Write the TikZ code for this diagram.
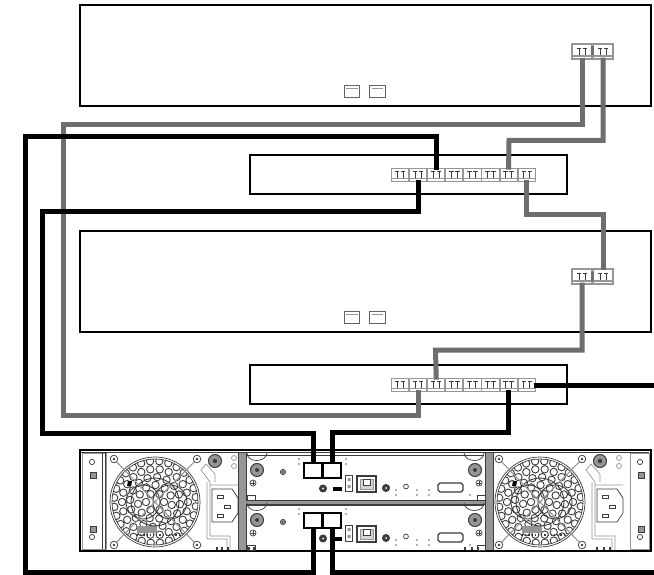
\documentclass[tikz,border=0pt]{standalone}
\usepackage{xcolor}
\usetikzlibrary{arrows.meta, positioning, calc}
\definecolor{cblGrey}{RGB}{110,110,110}
\definecolor{cblBlack}{RGB}{0,0,0}
\definecolor{hwInk}{RGB}{60,60,60}
\definecolor{hwSoft}{RGB}{150,150,150}

\begin{document}
\begin{tikzpicture}[x=1pt,y=-1pt,
  chassis/.style={draw=black,line width=1.5pt,fill=white,inner sep=0pt},
  rjport/.style={draw=hwInk!80,line width=0.7pt,fill=white,inner sep=0pt,minimum width=15.5pt,minimum height=12pt,
                 path picture={
                   \draw[hwSoft,line width=0.6pt] (path picture bounding box.north west) ++(2,3) -- ++(11.5,0);}},
  fcport/.style={draw=hwSoft,line width=1.3pt,fill=white,inner sep=0pt,
                 path picture={
                   \draw[hwInk,line width=0.9pt]
                     ($(path picture bounding box.center)+(-3,3.5)$) -- +(0,-7) +(-2.2,-7) -- +(2.2,-7)
                     ($(path picture bounding box.center)+(3,3.5)$) -- +(0,-7) +(-2.2,-7) -- +(2.2,-7);
                   \draw[hwSoft,line width=1.3pt] (path picture bounding box.south west) ++(0,-3) -- ++(30,0);}},
  swport/.style={fcport,minimum width=17.5pt,minimum height=13.5pt},
  srvport/.style={fcport,minimum width=20pt,minimum height=15pt},
  sasport/.style={draw=black,line width=1.2pt,fill=white,inner sep=0pt,minimum width=18pt,minimum height=15pt},
  cblgrey/.style={draw=cblGrey,line width=5pt,shorten <=-2pt,shorten >=-2pt},
  cblblack/.style={draw=cblBlack,line width=5pt,shorten <=-2pt,shorten >=-2pt},
  hw/.style={draw=hwInk,line width=0.7pt},
  hwthin/.style={draw=hwSoft,line width=0.7pt},
  hwdot/.style={fill=hwSoft,draw=none}]

\useasboundingbox (0,0) rectangle (654,575);

% Servers
\node[chassis,minimum width=571pt,minimum height=101pt] (srva) at (365.5,55.5) {};
\node[chassis,minimum width=571pt,minimum height=101pt] (srvb) at (365.5,281.5) {};
\node[rjport] (srvaeth1) at (352,91.5) {};
\node[rjport] (srvaeth2) at (377.5,91.5) {};
\node[rjport] (srvbeth1) at (352,317) {};
\node[rjport] (srvbeth2) at (377.5,317) {};
\node[srvport] (srvap1) at (582,51.5) {};
\node[srvport] (srvap2) at (603,51.5) {};
\node[srvport] (srvbp1) at (582,276.5) {};
\node[srvport] (srvbp2) at (603,276.5) {};
\draw[cblGrey,line width=2.5pt] (srvap1.east) ++(0,-5) -- ++(0,9) (srvbp1.east) ++(0,-5) -- ++(0,9);

% Switches
\node[chassis,minimum width=317pt,minimum height=39pt] (swa) at (408.5,174.5) {};
\node[chassis,minimum width=317pt,minimum height=39pt] (swb) at (408.5,384.5) {};
\foreach \i in {1,...,8} {
  \node[swport] (swap\i) at (381.9+\i*18.1,175) {};
  \node[swport] (swbp\i) at (381.9+\i*18.1,385) {};
}

% Storage array
\node[chassis,minimum width=571pt,minimum height=101pt] (array) at (365.5,500.5) {};
\draw[hwInk,line width=1.5pt] (array.north west) ++(1,3) -- ++(569,0);
\fill[hwSoft] (238,453) rectangle (246,550);
\fill[hwSoft] (485,453) rectangle (493,550);
\draw[hw] (246,453) -- (246,550) (485,453) -- (485,550) (238,453) -- (238,550) (493,453) -- (493,550);
\fill[hwSoft] (246,500) rectangle (485,504.5);
\draw[hw] (246,500) -- (485,500) (246,504.5) -- (485,504.5);

% Fans and inlets
\foreach \cx/\ix in {155/212,540/597} {
  \begin{scope}
    \clip (\cx,502) circle (43);
    \foreach \rad/\cnt/\off in {9/6/0,17/11/10,25/16/5,33/22/0,41/28/6}
      \foreach \k in {1,...,\cnt}
        \draw[hw,line width=0.9pt] (\cx,502) ++({\off+\k*360/\cnt}:\rad) circle (3.7);
    \fill[hwSoft] (\cx-18,526) rectangle (\cx+2,533);
    \draw[hw,line width=1.2pt,dotted] (\cx-18,535) -- (\cx+25,535);
  \end{scope}
  \draw[hw] (\cx,502) circle (45) (\cx,502) circle (43);
  \draw[hw,line width=0.9pt] (\cx-12,502) circle (17) (\cx+15,502) circle (17) (\cx,502) circle (24);
  \foreach \dx/\dy in {-41/-43,42/-43,-41/43,42/43} {
    \draw[hwthin,line width=1.1pt] (\cx,502) -- (\cx+\dx,502+\dy);
    \filldraw[hw,fill=white] (\cx+\dx,502+\dy) circle (3.8);
    \fill[hwInk] (\cx+\dx,502+\dy) circle (1.4);
  }
  \fill[black] (\cx-27,481) -- (\cx-23,481) -- (\cx-24,486) -- (\cx-28,486) -- cycle;
  % inlet
  \draw[hw] (\ix,489) -- (\ix+20,489) -- (\ix+26,498) -- (\ix+26,513) -- (\ix+20,522) -- (\ix,522) -- cycle;
  \draw[hwthin] (\ix-2,485) -- (\ix+26,485) (\ix-2,482) -- (\ix-2,536) -- (\ix+18,536) -- (\ix+18,550)
            (\ix-2,482) -- (\ix-11,470) -- (\ix-6,464) -- (\ix+3,474) -- (\ix+3,482)
            (\ix-5,482) -- (\ix-5,539) -- (\ix+15,539) -- (\ix+15,550);
  \foreach \px/\py in {8/497,15/507,8/516}
    \draw[hw,line width=1pt] (\ix+\px-3,\py-1.5) rectangle (\ix+\px+3,\py+1.5);
  \filldraw[hw,fill=hwSoft,line width=1pt] (\ix+3,461) circle (6.5);
  \fill[hwInk] (\ix+3,461) circle (2.2);
  \draw[hwthin] (\ix+22,458) circle (2.5) (\ix+22,466) circle (2.5);
}

% Handles of the supplies
\foreach \hx/\hwd/\pinx in {80/28/92,628/23/640} {
  \draw[hwthin] (\hx+2,453) rectangle (\hx+\hwd-2,549);
  \draw[hw] (\pinx,462) circle (2.6) (\pinx,537) circle (2.6);
  \filldraw[hw,fill=hwSoft] (\pinx-2,472) rectangle (\pinx+4,478) (\pinx-2,526) rectangle (\pinx+4,532);
}
\draw[hw] (102,453) -- (102,549) (105,453) -- (105,549);
\foreach \mx in {217,222,228,249,254,465,472,478,597,604,610}
  \draw[hw,line width=1.2pt] (\mx,547) -- (\mx,550);

% Controllers
\foreach \y/\nm in {0/ctla,50/ctlb} {
  \draw[hw] (247,455+\y) -- (484,455+\y);
  \draw[hw] (247,453+\y) .. controls (247,463+\y) and (266,463+\y) .. (267,453+\y);
  \draw[hw] (464,453+\y) .. controls (465,463+\y) and (484,463+\y) .. (484,453+\y);
  \foreach \sx in {257,475} {
    \filldraw[hw,fill=hwSoft,line width=1pt] (\sx,470+\y) circle (6.5);
    \fill[hwInk] (\sx,470+\y) circle (2);
  }
  \foreach \sx in {253,479} {
    \draw[hw] (\sx,483+\y) circle (3);
    \draw[hw] (\sx-2,483+\y) -- (\sx+2,483+\y) (\sx,481+\y) -- (\sx,485+\y);
  }
  \draw[hw] (247,495+\y) rectangle (255,500+\y) (477,495+\y) rectangle (485,500+\y);
  \filldraw[hw,fill=hwSoft] (283,472+\y) circle (2.6);
  \fill[hwInk] (283,472+\y) circle (0.8);
  \foreach \dx/\dy in {299/459,299/464,346/459,346/464,396/490,396/495,417/490,417/495,429/490,429/495,470/495}
    \fill[hwdot] (\dx,\dy+\y) circle (1.1);
  \filldraw[hw,fill=hwInk] (323,488.5+\y) circle (3.6);
  \fill[white] (323,488.5+\y) circle (1);
  \fill[black] (332.5,487+\y) rectangle (341.5,491+\y);
  \draw[hw,line width=1pt] (345.5,475+\y) rectangle (352.5,491+\y);
  \fill[hwSoft] (347.5,478+\y) rectangle (350.5,481+\y) (347.5,485+\y) rectangle (350.5,488+\y);
  \draw[hw,line width=1.3pt] (357,476+\y) rectangle (376,492+\y);
  \draw[hwthin,fill=hwSoft!40] (360,479+\y) rectangle (373,489+\y);
  \draw[hw,fill=white] (363,479+\y) rectangle (370,485+\y);
  \filldraw[hw,fill=hwInk] (386,488+\y) circle (3.6);
  \fill[white] (386,488+\y) circle (1);
  \draw[hw] (406,486.5+\y) circle (2.4);
  \draw[hw,line width=1.2pt] (440,483+\y) -- (461,483+\y) -- (463,485+\y) -- (463,490+\y) -- (461,492+\y)
                             -- (440,492+\y) -- (438,490+\y) -- (438,485+\y) -- cycle;
}
\node[sasport] (ctlap1) at (313,470.5) {};
\node[sasport] (ctlap2) at (332,470.5) {};
\node[sasport] (ctlbp1) at (313,520.5) {};
\node[sasport] (ctlbp2) at (332,520.5) {};

% Free ends and bends
\coordinate (edgea) at (654,385);
\coordinate (edgeb) at (654,572);

% Grey cables
\draw[cblgrey] (srvap1.south) |- (63,125) -- (63,415) -| (swbp2.south);
\draw[cblgrey] (srvap2.south) |- (509,140.5) -- (swap7.north);
\draw[cblgrey] (swap8.south) |- (603,215) -- (srvbp2.north);
\draw[cblgrey] (srvbp1.south) |- (435.5,350) -- (swbp3.north);

% Black cables
\draw[cblblack] (swap3.north) |- (25,137) -- (25,572) -| (ctlbp1.south);
\draw[cblblack] (swap2.south) |- (42,212) -- (42,433) -| (ctlap1.north);
\draw[cblblack] (swbp7.south) |- (332,432.5) -- (ctlap2.north);
\draw[cblblack] (ctlbp2.south) |- (edgeb);
\draw[cblblack] (swbp8.east) -- (edgea);
\end{tikzpicture}
\end{document}
